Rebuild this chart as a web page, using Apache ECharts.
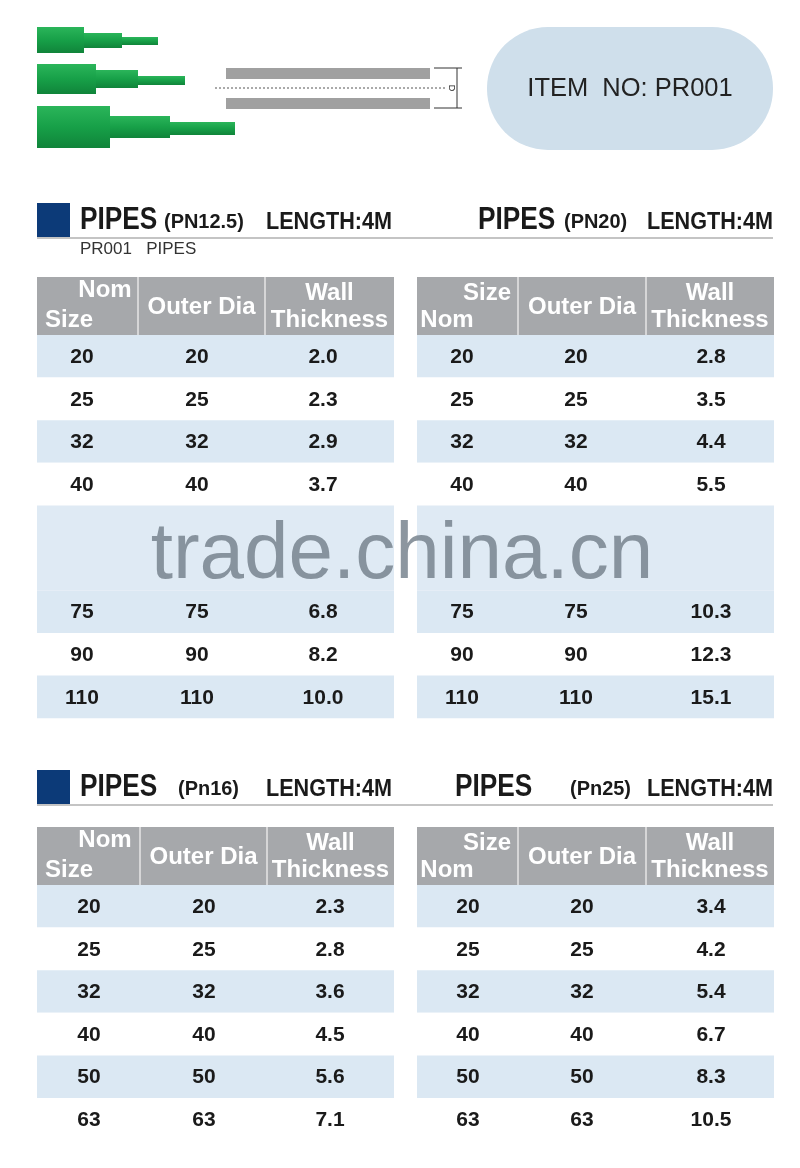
<!DOCTYPE html>
<html>
<head>
<meta charset="utf-8">
<script src="https://cdn.jsdelivr.net/npm/echarts@6/dist/echarts.min.js"></script>
<style>html,body{margin:0;padding:0;background:#fff}#main{width:800px;height:1168px}</style>
</head>
<body>
<div id="main"></div>
<script>
// table data
var sizesTop = ['20', '25', '32', '40', '', '', '75', '90', '110']
var wallPN125 = ['2.0', '2.3', '2.9', '3.7', '', '', '6.8', '8.2', '10.0']
var wallPN20 = ['2.8', '3.5', '4.4', '5.5', '', '', '10.3', '12.3', '15.1']
var sizesBottom = ['20', '25', '32', '40', '50', '63']
var wallPN16 = ['2.3', '2.8', '3.6', '4.5', '5.6', '7.1']
var wallPN25 = ['3.4', '4.2', '5.4', '6.7', '8.3', '10.5']
var itemNo = 'ITEM  NO: PR001'

var SANS = 'Arial, "Liberation Sans", sans-serif'
var BLUE_ROW = '#dbe8f3'
var HEAD = '#a6a8ab'

var els = []

function rect(x, y, w, h, fill, extra) {
  var e = { type: 'rect', shape: { x: x, y: y, width: w, height: h }, style: { fill: fill } }
  if (extra) Object.assign(e.shape, extra)
  els.push(e)
}
function text(x, y, s, size, opt) {
  opt = opt || {}
  els.push({
    type: 'text', x: x, y: y, z: opt.z || 5, rotation: opt.rotation || 0, scaleX: opt.sx || 1,
    style: {
      text: s, fontSize: size, fontFamily: SANS, fontWeight: opt.weight || 'bold',
      fill: opt.fill || '#1a1a1a', align: opt.align || 'center', verticalAlign: 'middle'
    }
  })
}

// green pipes
function pipe(parts) {
  parts.forEach(function (p) {
    els.push({
      type: 'rect', shape: { x: p[0], y: p[1], width: p[2] - p[0], height: p[3] - p[1] },
      style: { fill: new echarts.graphic.LinearGradient(0, 0, 0, 1, [
        { offset: 0, color: '#2bb55a' }, { offset: 0.5, color: '#17a048' }, { offset: 1, color: '#10843a' }]) }
    })
  })
}
pipe([[37, 27, 84, 53], [84, 33, 122, 48], [122, 37, 158, 45]])
pipe([[37, 64, 96, 94], [96, 70, 138, 88], [138, 76, 185, 85]])
pipe([[37, 106, 110, 148], [110, 116, 170, 138], [170, 122, 235, 135]])

// section diagram
rect(226, 68, 204, 41, '#a0a0a0')
rect(226, 79, 204, 19, '#ffffff')
els.push({ type: 'line', shape: { x1: 215, y1: 88, x2: 445, y2: 88 }, style: { stroke: '#555', lineDash: [2, 2], lineWidth: 1 } })
els.push({ type: 'line', shape: { x1: 457, y1: 68, x2: 457, y2: 108 }, style: { stroke: '#333', lineWidth: 1 } })
els.push({ type: 'line', shape: { x1: 434, y1: 68, x2: 462, y2: 68 }, style: { stroke: '#333', lineWidth: 1 } })
els.push({ type: 'line', shape: { x1: 434, y1: 108, x2: 462, y2: 108 }, style: { stroke: '#333', lineWidth: 1 } })
text(451, 88, 'D', 9, { rotation: -Math.PI / 2, weight: 'normal' })

// item pill
rect(487, 27, 286, 123, '#cfdfeb', { r: 61 })
text(630, 89, itemNo, 26, { weight: 'normal', fill: '#222', sx: 0.98 })

// section titles
function titleBar(y, lblL, midL, lenL, xMidL, xLenL, lblR, midR, lenR, xR, xMidR, xLenR) {
  rect(37, y, 33, 34, '#0c3a78')
  els.push({ type: 'line', shape: { x1: 37, y1: y + 35, x2: 773, y2: y + 35 }, style: { stroke: '#b0b0b0', lineWidth: 1.5 } })
  var ty = y + 17
  text(80, ty, lblL, 32, { align: 'left', sx: 0.82 })
  text(xMidL, ty + 2, midL, 21, { align: 'left', sx: 0.95 })
  text(xLenL, ty + 2, lenL, 24, { align: 'left', sx: 0.9 })
  text(xR, ty, lblR, 32, { align: 'left', sx: 0.82 })
  text(xMidR, ty + 2, midR, 21, { align: 'left', sx: 0.95 })
  text(xLenR, ty + 2, lenR, 24, { align: 'left', sx: 0.9 })
}
titleBar(203, 'PIPES', '(PN12.5)', 'LENGTH:4M', 164, 266, 'PIPES', '(PN20)', 'LENGTH:4M', 478, 564, 647)
text(80, 249, 'PR001   PIPES', 17, { align: 'left', weight: 'normal', fill: '#333', sx: 1.0 })
titleBar(770, 'PIPES', '(Pn16)', 'LENGTH:4M', 178, 266, 'PIPES', '(Pn25)', 'LENGTH:4M', 455, 570, 647)

// tables
function table(x0, y0, divs, sizes, walls, swapHead, centers, blankRange) {
  var x1 = x0 + 357
  var headH = 58, rowH = 42.6
  rect(x0, y0, x1 - x0, headH, HEAD)
  divs.forEach(function (d) {
    els.push({ type: 'line', shape: { x1: d, y1: y0, x2: d, y2: y0 + headH }, style: { stroke: '#e6e6e6', lineWidth: 1.5 } })
  })
  var o = { fill: '#ffffff', sx: 1.0 }
  if (swapHead) {
    text(x0 + 70, y0 + 16, 'Size', 24, o)
    text(x0 + 30, y0 + 43, 'Nom', 24, o)
  } else {
    text(x0 + 68, y0 + 13, 'Nom', 24, o)
    text(x0 + 32, y0 + 43, 'Size', 24, o)
  }
  text((divs[0] + divs[1]) / 2, y0 + 30, 'Outer Dia', 24, o)
  text((divs[1] + x1) / 2, y0 + 16, 'Wall', 24, o)
  text((divs[1] + x1) / 2, y0 + 43, 'Thickness', 24, o)
  var y = y0 + headH
  for (var i = 0; i < sizes.length; i++) {
    if (blankRange && i === blankRange[0]) {
      // hidden rows covered by the watermark band
      var bh = 85
      rect(x0, y, x1 - x0, bh, '#dfeaf4')
      y += bh
      i = blankRange[1]
      continue
    }
    var h = rowH
    rect(x0, y, x1 - x0, h, i % 2 === 0 ? BLUE_ROW : '#ffffff')
    text(centers[0], y + h / 2 + 1, sizes[i], 21)
    text(centers[1], y + h / 2 + 1, sizes[i], 21)
    text(centers[2], y + h / 2 + 1, walls[i], 21)
    y += h
  }
}
table(37, 277, [138, 265], sizesTop, wallPN125, false, [82, 197, 323], [4, 5])
table(417, 277, [518, 646], sizesTop, wallPN20, true, [462, 576, 711], [4, 5])
table(37, 827, [140, 267], sizesBottom, wallPN16, false, [89, 204, 330])
table(417, 827, [518, 646], sizesBottom, wallPN25, true, [468, 582, 711])

// watermark
text(402, 556, 'trade.china.cn', 80, { weight: 'normal', fill: 'rgba(120,132,142,0.85)', z: 10 })

var myChart = echarts.init(document.getElementById('main'))
myChart.setOption({ animation: false, graphic: { elements: els } })
</script>
</body>
</html>
